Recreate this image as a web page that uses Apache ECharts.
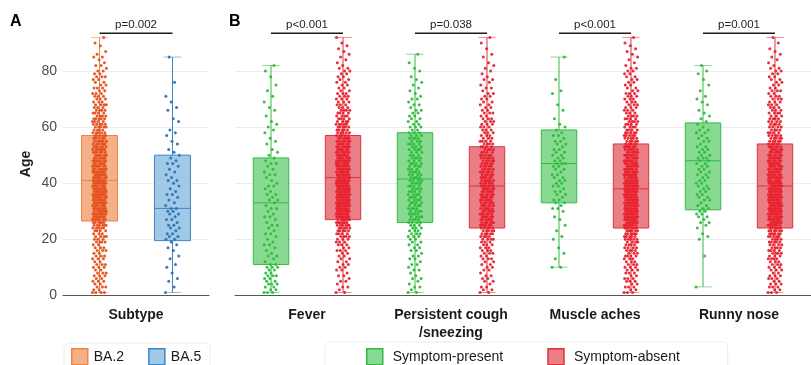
<!DOCTYPE html>
<html>
<head>
<meta charset="utf-8">
<title>Age by subtype and symptom</title>
<script src="https://cdn.jsdelivr.net/npm/echarts@6/dist/echarts.min.js"></script>
<style>
  html, body { margin: 0; padding: 0; background: #fff; }
  #chart { width: 811px; height: 365px; }
</style>
</head>
<body>
<div id="chart"></div>
<script>
const subtypeCategories = ['Subtype'];
const symptomCategories = ['Fever', 'Persistent cough\n/sneezing', 'Muscle aches', 'Runny nose'];
const ageTicks = [0, 20, 40, 60, 80];

// patients per age, counts[i] = number of patients aged i + 1
const ba2Counts = [
  4,2,3,2,3,2,3,3,2,3, 3,2,3,3,2,3,3,2,4,3, 4,3,4,5,6,6,7,7,8,7,
  8,7,8,8,7,9,8,8,7,8, 8,7,7,8,7,7,6,7,6,6, 6,7,6,6,6,5,5,5,4,5,
  5,4,5,4,4,4,3,4,3,3, 3,3,2,3,2,2,2,3,2,2, 1,2,1,1,2,1,1,0,1,1, 0,1
];
const ba5Counts = [
  1,0,1,0,1,1,0,1,0,1, 1,0,1,1,0,1,1,1,1,2, 2,2,1,2,2,1,2,1,2,2,
  2,1,1,1,1,2,1,1,1,1, 2,1,1,1,1,1,2,1,1,1, 1,1,0,1,1,0,1,1,1,0,
  0,1,1,0,0,1,1,0,1,0, 1,0,0,0,0,1,0,0,0,0, 0,0,0,0,1
];
const feverPresentCounts = [
  3,2,2,3,2,2,3,2,2,3, 2,1,1,2,1,1,1,2,1,1, 1,2,1,1,2,1,1,2,1,1,
  2,1,1,2,1,2,1,1,2,1, 1,1,2,1,1,1,2,1,1,1, 1,1,0,1,1,1,0,1,1,1,
  1,1,0,1,0,1,1,0,1,0, 1,0,1,0,1,0,0,1,0,1, 0,1
];
const feverAbsentCounts = [
  2,1,2,1,2,1,2,1,2,2, 2,2,2,2,2,3,2,3,3,3, 4,4,5,5,6,7,7,8,8,8,
  8,8,8,9,8,9,9,8,9,8, 8,8,8,7,8,8,7,8,7,7, 7,6,7,6,6,6,5,5,5,5,
  5,4,4,4,4,4,3,3,3,3, 3,3,2,2,2,2,2,2,2,2, 2,1,1,1,1,1,1,1,1,1, 0,1
];
const coughPresentCounts = [
  2,1,2,1,1,2,1,1,2,1, 2,1,2,2,1,2,2,2,2,2, 3,3,3,3,3,4,4,4,4,4,
  4,4,4,4,4,4,4,4,4,4, 4,4,4,4,3,4,4,3,4,3, 3,4,3,4,3,4,3,3,2,3,
  2,2,2,2,2,2,1,2,1,2, 1,1,1,1,1,1,1,1,0,1, 1,0,1,0,0,1
];
const coughAbsentCounts = [
  2,2,2,1,2,2,2,1,2,2, 2,2,3,2,3,3,3,3,3,4, 4,5,5,5,6,6,6,6,6,6,
  6,6,6,6,6,6,6,6,6,6, 6,6,5,6,5,5,5,5,5,5, 4,4,4,4,4,3,3,3,3,3,
  3,3,3,2,3,2,2,2,2,2, 2,2,1,2,1,1,2,1,1,1, 1,1,1,0,1,1,0,1,0,1, 0,1
];
const musclePresentCounts = [
  0,0,0,0,0,0,0,0,0,2, 0,0,1,0,1,0,1,0,0,1, 1,0,1,0,1,0,1,1,0,1,
  2,1,2,2,1,2,2,1,2,2, 2,2,2,1,2,2,3,2,2,2, 2,2,1,2,2,1,2,1,1,1,
  1,0,1,0,0,1,0,1,0,0, 0,1,1,0,0,0,1,0,0,0, 0,0,0,0,1
];
const muscleAbsentCounts = [
  3,2,3,2,3,3,2,3,3,3, 3,3,3,4,3,4,4,4,4,5, 5,6,6,7,7,7,8,8,8,8,
  8,8,8,9,8,8,8,8,8,8, 8,7,8,7,7,7,7,7,6,7, 6,6,6,5,5,5,5,5,4,4,
  4,4,4,4,3,3,3,3,3,3, 3,3,2,2,2,2,2,2,2,2, 2,1,1,1,1,1,1,1,1,1, 0,1
];
const runnyPresentCounts = [
  0,0,1,0,0,0,0,0,0,0, 0,0,0,1,0,0,0,0,0,1, 1,1,0,1,1,2,1,2,2,2,
  2,2,1,2,2,2,2,2,2,2, 2,2,2,2,2,2,2,2,3,2, 2,2,2,1,2,2,1,2,2,1,
  1,1,1,1,1,1,0,1,1,1, 1,0,1,0,1,0,1,0,1,1, 0,1
];
const runnyAbsentCounts = [
  3,2,3,3,2,3,3,2,3,3, 3,3,4,3,4,4,4,4,5,4, 5,6,6,6,7,7,8,7,8,8,
  8,8,8,8,8,8,8,8,7,8, 7,8,7,7,7,7,7,6,7,6, 6,6,6,5,5,5,5,4,4,4,
  4,4,4,3,4,3,3,3,3,3, 3,2,3,2,2,2,2,2,2,2, 2,1,1,1,1,1,1,1,0,1, 0,1
];

// box stats: [min, q1, median, q3, max]
const ba2Box = [1, 26.5, 41, 57, 92];
const ba5Box = [1, 19.5, 31, 50, 85];
const presentBoxes = [[1, 11, 33, 49, 82], [1, 26, 41.5, 58, 86], [10, 33, 47, 59, 85], [3, 30.5, 48, 61.5, 82]];
const absentBoxes = [[1, 27, 42, 57, 92], [1, 24, 39, 53, 92], [1, 24, 38, 54, 92], [1, 24, 39, 54, 92]];

const subtypePValues = ['p=0.002'];
const symptomPValues = ['p<0.001', 'p=0.038', 'p<0.001', 'p=0.001'];
const bracketAge = 93.5;

const FONT = "'Liberation Sans', Arial, sans-serif";
const colors = {
  ba2: { fill: '#F4B086', stroke: '#EF8445', point: '#E5501D' },
  ba5: { fill: '#9FC9E6', stroke: '#3F86C6', point: '#2F71B9' },
  present: { fill: '#88DA92', stroke: '#35B843', point: '#2EBD3A' },
  absent: { fill: '#EA7E86', stroke: '#E0333E', point: '#E8222F' }
};

// dodge offset inside one category (value axis spans one unit per category)
const LEFT = 0.25, RIGHT = 0.75;

function toPoints(counts, pos) {
  const pts = [];
  let j = 0;
  counts.forEach((c, i) => {
    for (let k = 0; k < c; k++) {
      const off = (((j * 0.618034) % 1) - 0.5) * 0.096;
      pts.push([pos + off, i + 1]);
      j++;
    }
  });
  return pts;
}

function boxRender(col) {
  return function (params, api) {
    const x = api.value(0);
    const v = [1, 2, 3, 4, 5].map(i => api.value(i));
    const hw = 0.123, cw = 0.06;
    const p = (dx, y) => api.coord([x + dx, y]);
    const lo = p(0, v[0]), q1 = p(0, v[1]), q3 = p(0, v[3]), hi = p(0, v[4]);
    const tl = p(-hw, v[3]), br = p(hw, v[1]);
    const ml = p(-hw, v[2]), mr = p(hw, v[2]);
    const cl = p(-cw, 0)[0], cr = p(cw, 0)[0];
    return {
      type: 'group',
      children: [
        { type: 'line', shape: { x1: lo[0], y1: lo[1], x2: q1[0], y2: q1[1] }, style: { stroke: col.stroke, lineWidth: 1 } },
        { type: 'line', shape: { x1: q3[0], y1: q3[1], x2: hi[0], y2: hi[1] }, style: { stroke: col.stroke, lineWidth: 1 } },
        { type: 'line', shape: { x1: cl, y1: lo[1], x2: cr, y2: lo[1] }, style: { stroke: col.stroke, lineWidth: 1, opacity: 0.55 } },
        { type: 'line', shape: { x1: cl, y1: hi[1], x2: cr, y2: hi[1] }, style: { stroke: col.stroke, lineWidth: 1, opacity: 0.55 } },
        { type: 'rect', shape: { x: tl[0], y: tl[1], width: br[0] - tl[0], height: br[1] - tl[1] }, style: { fill: col.fill, stroke: col.stroke, lineWidth: 1 } },
        { type: 'line', shape: { x1: ml[0], y1: ml[1], x2: mr[0], y2: mr[1] }, style: { stroke: col.stroke, lineWidth: 1 } }
      ]
    };
  };
}

function bracketRender(params, api) {
  const a = api.coord([api.value(0), api.value(2)]);
  const b = api.coord([api.value(1), api.value(2)]);
  return {
    type: 'group',
    children: [
      { type: 'line', shape: { x1: a[0], y1: a[1], x2: b[0], y2: b[1] }, style: { stroke: '#1a1a1a', lineWidth: 1.6 } },
      { type: 'text', x: (a[0] + b[0]) / 2, y: a[1] - 2, style: { text: api.value(3), fill: '#222', font: '11.5px ' + FONT, align: 'center', verticalAlign: 'bottom' } }
    ]
  };
}

const catAxis = (grid, data) => ({
  type: 'category', gridIndex: grid, data: data,
  axisLine: { lineStyle: { color: '#555', width: 1 } },
  axisTick: { alignWithLabel: true, length: 4, lineStyle: { color: '#555' } },
  axisLabel: { interval: 0, color: '#1a1a1a', fontFamily: FONT, fontSize: 14, fontWeight: 'bold', margin: 11, lineHeight: 18 }
});
const posAxis = (grid, n) => ({ type: 'value', gridIndex: grid, min: 0, max: n, show: false });
const ageAxis = (grid, labels) => ({
  type: 'value', gridIndex: grid, min: 0, max: 100, interval: 20,
  axisLine: { show: false }, axisTick: { show: false },
  axisLabel: {
    show: labels, color: '#4d4d4d', fontFamily: FONT, fontSize: 14, margin: 6,
    formatter: v => (ageTicks.includes(v) ? String(v) : '')
  },
  splitLine: { lineStyle: { color: ['#ececec', '#ececec', '#ececec', '#ececec', '#ececec', 'rgba(0,0,0,0)'], width: 1 } }
});

const presentData = presentBoxes.map((b, i) => [i + LEFT].concat(b));
const absentData = absentBoxes.map((b, i) => [i + RIGHT].concat(b));
const presentCounts = [feverPresentCounts, coughPresentCounts, musclePresentCounts, runnyPresentCounts];
const absentCounts = [feverAbsentCounts, coughAbsentCounts, muscleAbsentCounts, runnyAbsentCounts];

const boxSeries = (name, xi, yi, data, col) => ({
  name: name, type: 'custom', xAxisIndex: xi, yAxisIndex: yi, z: 2,
  renderItem: boxRender(col), data: data, silent: true
});
const pointSeries = (name, xi, yi, data, col) => ({
  name: name, type: 'scatter', xAxisIndex: xi, yAxisIndex: yi, z: 3,
  symbol: 'circle', symbolSize: 3, itemStyle: { color: col.point, opacity: 0.95 },
  data: data, silent: true, animation: false
});

const chart = echarts.init(document.getElementById('chart'));
chart.setOption({
  animation: false,
  textStyle: { fontFamily: FONT },
  grid: [
    { left: 63, top: 15, width: 146, height: 280.3 },
    { left: 235, top: 15, width: 584, height: 280.3 }
  ],
  xAxis: [
    catAxis(0, subtypeCategories), posAxis(0, subtypeCategories.length),
    catAxis(1, symptomCategories), posAxis(1, symptomCategories.length)
  ],
  yAxis: [ageAxis(0, true), ageAxis(1, false)],
  legend: [
    {
      left: 64, top: 343, padding: [5, 9, 5, 7], itemGap: 24,
      itemWidth: 16, itemHeight: 16, icon: 'rect',
      borderColor: '#ececec', borderWidth: 1, borderRadius: 5,
      textStyle: { fontSize: 14, color: '#1a1a1a', fontFamily: FONT, padding: [0, 0, 0, 1] },
      data: [
        { name: 'BA.2', itemStyle: { color: colors.ba2.fill, borderColor: colors.ba2.stroke, borderWidth: 1.5 } },
        { name: 'BA.5', itemStyle: { color: colors.ba5.fill, borderColor: colors.ba5.stroke, borderWidth: 1.5 } }
      ]
    },
    {
      left: 325, top: 342, padding: [6, 48, 5, 41], itemGap: 44,
      itemWidth: 16, itemHeight: 16, icon: 'rect',
      borderColor: '#ececec', borderWidth: 1, borderRadius: 5,
      textStyle: { fontSize: 14, color: '#1a1a1a', fontFamily: FONT, padding: [0, 0, 0, 5] },
      data: [
        { name: 'Symptom-present', itemStyle: { color: colors.present.fill, borderColor: colors.present.stroke, borderWidth: 1.5 } },
        { name: 'Symptom-absent', itemStyle: { color: colors.absent.fill, borderColor: colors.absent.stroke, borderWidth: 1.5 } }
      ]
    }
  ],
  graphic: [
    { type: 'text', left: 10, top: 14, style: { text: 'A', font: 'bold 16px ' + FONT, fill: '#000' } },
    { type: 'text', left: 229, top: 14, style: { text: 'B', font: 'bold 16px ' + FONT, fill: '#000' } },
    { type: 'text', x: 26.5, y: 164, rotation: Math.PI / 2, style: { text: 'Age', font: 'bold 14px ' + FONT, fill: '#1a1a1a', align: 'center', verticalAlign: 'middle' } }
  ],
  series: [
    boxSeries('BA.2', 1, 0, [[LEFT].concat(ba2Box)], colors.ba2),
    boxSeries('BA.5', 1, 0, [[RIGHT].concat(ba5Box)], colors.ba5),
    pointSeries('BA.2', 1, 0, toPoints(ba2Counts, LEFT), colors.ba2),
    pointSeries('BA.5', 1, 0, toPoints(ba5Counts, RIGHT), colors.ba5),
    boxSeries('Symptom-present', 3, 1, presentData, colors.present),
    boxSeries('Symptom-absent', 3, 1, absentData, colors.absent),
    pointSeries('Symptom-present', 3, 1, [].concat(...presentCounts.map((c, i) => toPoints(c, i + LEFT))), colors.present),
    pointSeries('Symptom-absent', 3, 1, [].concat(...absentCounts.map((c, i) => toPoints(c, i + RIGHT))), colors.absent),
    {
      type: 'custom', xAxisIndex: 1, yAxisIndex: 0, z: 4, silent: true, renderItem: bracketRender,
      data: subtypePValues.map((p, i) => [i + LEFT, i + RIGHT, bracketAge, p])
    },
    {
      type: 'custom', xAxisIndex: 3, yAxisIndex: 1, z: 4, silent: true, renderItem: bracketRender,
      data: symptomPValues.map((p, i) => [i + LEFT, i + RIGHT, bracketAge, p])
    }
  ]
});
</script>
</body>
</html>
